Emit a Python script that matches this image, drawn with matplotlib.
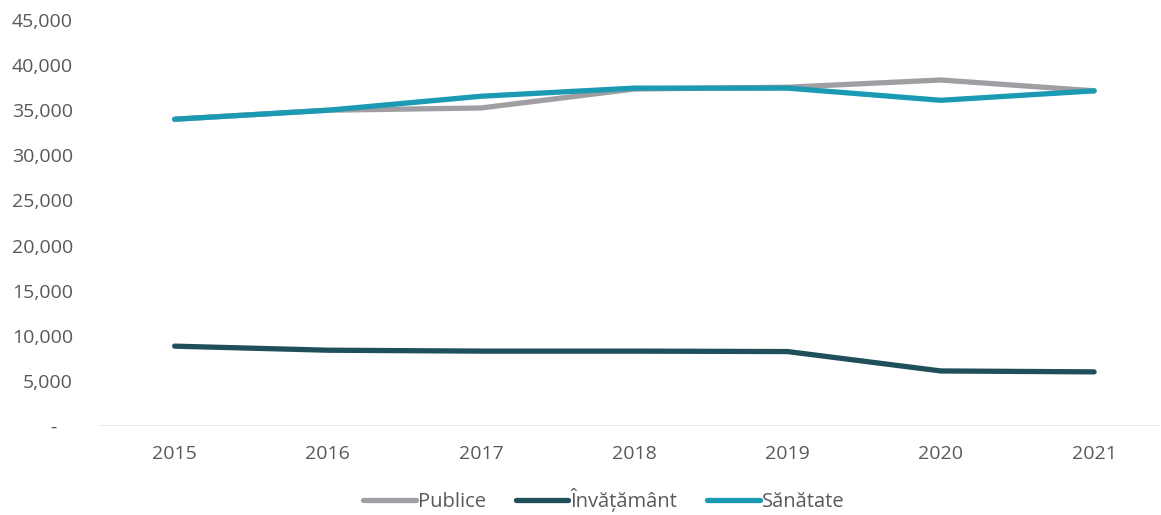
import matplotlib
matplotlib.use("Agg")
import matplotlib.pyplot as plt
from matplotlib.ticker import FuncFormatter, MultipleLocator

years = ["2015", "2016", "2017", "2018", "2019", "2020", "2021"]
publice = [34000, 35000, 35250, 37350, 37550, 38350, 37150]
invatamant = [8850, 8400, 8300, 8300, 8250, 6100, 6000]
sanatate = [34000, 35000, 36550, 37450, 37450, 36100, 37150]

series_names = ["Publice", "Învățământ", "Sănătate"]
colors = ["#a09ea3", "#1e4f5b", "#1b9ab4"]

plt.rcParams['font.family'] = ['Open Sans', 'DejaVu Sans']

fig = plt.figure(figsize=(11.61, 5.15), dpi=100)
ax = fig.add_axes([98/1161, (515-426)/515, (1160-98)/1161, (426-20)/515])

x = list(range(len(years)))
for vals, name, c in zip([publice, invatamant, sanatate], series_names, colors):
    ax.plot(x, vals, color=c, lw=3.8, label=name, solid_capstyle='round', solid_joinstyle='round')

ax.set_ylim(0, 45000)
ax.set_xlim(-0.5, 6.43)
ax.yaxis.set_major_locator(MultipleLocator(5000))
ax.yaxis.set_major_formatter(FuncFormatter(lambda v, p: "-   " if v == 0 else f"{int(v):,}"))
ax.set_xticks(x)
ax.set_xticklabels(years)

for s in ax.spines.values():
    s.set_visible(False)
ax.axhline(0, color="#e6e6e6", lw=1.2, zorder=0)
ax.tick_params(axis='both', length=0, labelsize=14, labelcolor="#595959")
ax.tick_params(axis='y', pad=18)
ax.tick_params(axis='x', pad=14)
for lbl in ax.get_yticklabels():
    lbl.set_horizontalalignment('right')

leg = fig.legend(loc='center', bbox_to_anchor=(0.52, (515-500)/515), ncol=3, frameon=False,
                 fontsize=14.5, handlelength=2.6, handletextpad=0.1, columnspacing=1.5,
                 borderpad=0.2)
for t in leg.get_texts():
    t.set_color("#595959")

fig.savefig("out.png", dpi=100)
